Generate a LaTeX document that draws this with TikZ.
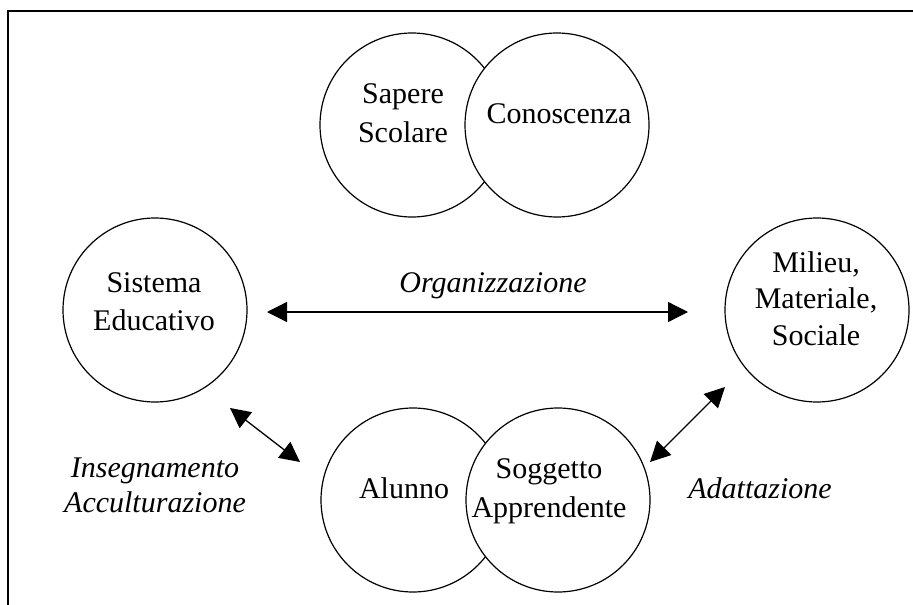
\documentclass[tikz,border=0pt]{standalone}
\usepackage{fontspec}
\setmainfont{Liberation Serif}
\usetikzlibrary{arrows.meta}
\begin{document}
\begin{tikzpicture}[x=1pt,y=-1pt,
  ring/.style={circle, draw, fill=white, line width=1.2pt, minimum size=184pt, inner sep=0pt},
  word/.style={anchor=base, inner sep=0pt, font=\fontsize{30}{39}\selectfont},
  slant/.style={anchor=base, inner sep=0pt, font=\fontsize{30}{39}\selectfont\itshape},
  dbl/.style={arrows={Triangle[length=20pt,width=20pt]-Triangle[length=20pt,width=20pt]}, line width=1.3pt}
]
\useasboundingbox (0,0) rectangle (913,605);
% open frame: top and left edges only
\draw[line width=2pt] (8,605) -- (8,11) -- (913,11);

% circles
\node[ring] (sap) at (412,125) {};
\node[ring] (con) at (557,125) {};
\node[ring] (sis) at (155,310) {};
\node[ring] (mil) at (817,310) {};
\node[ring] (alu) at (413,500) {};
\node[ring] (sog) at (558,500) {};

% circle texts
\node[word] (sapA) at (403,103) {Sapere};
\node[word] (sapB) at (403,142) {Scolare};
\node[word] (conA) at (559,123) {Conoscenza};
\node[word] (sisA) at (154,292) {Sistema};
\node[word] (sisB) at (154,330) {Educativo};
\node[word] (milA) at (816,272) {Milieu,};
\node[word] (milB) at (816,308) {Materiale,};
\node[word] (milC) at (816,345) {Sociale};
\node[word] (aluA) at (404,498) {Alunno};
\node[word] (sogA) at (549,478) {Soggetto};
\node[word] (sogB) at (549,517) {Apprendente};

% relation labels
\node[slant] (org) at (493,292) {Organizzazione};
\node[slant] (insA) at (155,477) {Insegnamento};
\node[slant] (insB) at (155,512) {Acculturazione};
\node[slant] (ada) at (760,498) {Adattazione};

% two-headed connectors
\draw[dbl] ([shift={(112,2)}]sis.center) -- ([shift={(-129,2)}]mil.center);
\draw[dbl] ([shift={(75,98)}]sis.center) -- ([shift={(-113,-38)}]alu.center);
\draw[dbl] ([shift={(-92,77)}]mil.center) -- ([shift={(92,-38)}]sog.center);
\end{tikzpicture}
\end{document}
